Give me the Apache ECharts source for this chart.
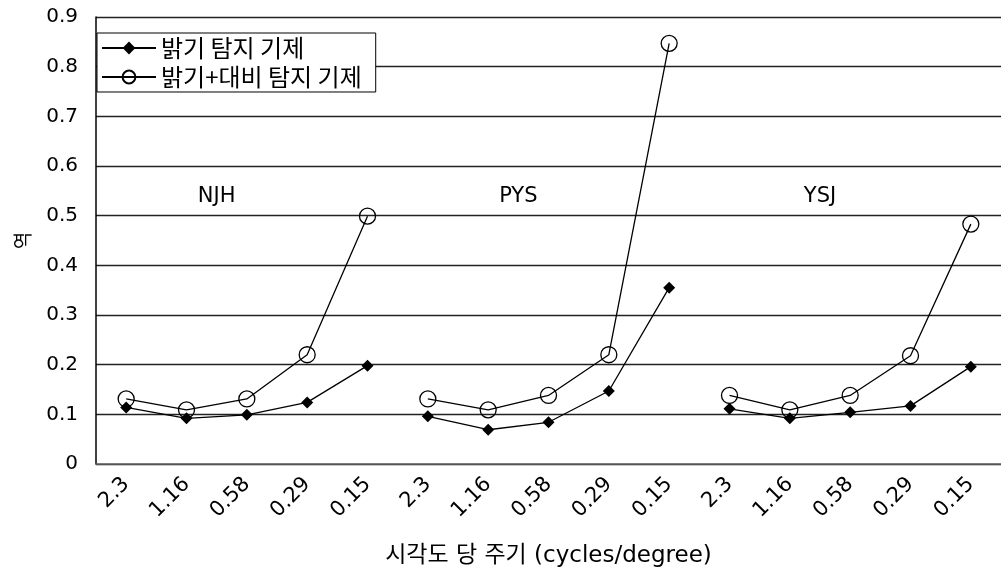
<!DOCTYPE html>
<html>
<head>
<meta charset="utf-8">
<script src="https://cdn.jsdelivr.net/npm/echarts@6/dist/echarts.min.js"></script>
<style>
html,body{margin:0;padding:0;background:#fff;}
#chart{width:1001px;height:573px;}
</style>
</head>
<body>
<div id="chart"></div>
<script>
// Data
const freqLabels = ['2.3', '1.16', '0.58', '0.29', '0.15'];
const groups = ['NJH', 'PYS', 'YSJ'];
const brightness = {
  NJH: [0.114, 0.092, 0.099, 0.124, 0.198],
  PYS: [0.096, 0.069, 0.084, 0.147, 0.355],
  YSJ: [0.111, 0.092, 0.104, 0.117, 0.196]
};
const brightContrast = {
  NJH: [0.131, 0.109, 0.131, 0.220, 0.499],
  PYS: [0.131, 0.109, 0.138, 0.220, 0.847],
  YSJ: [0.138, 0.109, 0.138, 0.218, 0.483]
};
const seriesNames = ['밝기 탐지 기제', '밝기+대비 탐지 기제'];
const yTicks = { min: 0, max: 0.9, interval: 0.1 };

const categories = [];
groups.forEach(() => freqLabels.forEach(f => categories.push(f)));

const latin = 'DejaVu Sans, Noto Sans CJK KR, sans-serif';

function groupData(values, gi) {
  const arr = new Array(categories.length).fill(null);
  values.forEach((v, i) => { arr[gi * freqLabels.length + i] = v; });
  return arr;
}

const series = [];
groups.forEach((g, gi) => {
  series.push({
    name: seriesNames[0], type: 'line', data: groupData(brightness[g], gi),
    symbol: 'diamond', symbolSize: 12, connectNulls: false,
    lineStyle: { color: '#000', width: 1.3 },
    itemStyle: { color: '#000' }, z: 3
  });
  series.push({
    name: seriesNames[1], type: 'line', data: groupData(brightContrast[g], gi),
    symbol: 'circle', symbolSize: 16, connectNulls: false,
    lineStyle: { color: '#000', width: 1.3 },
    itemStyle: { color: 'rgba(255,255,255,0)', borderColor: '#000', borderWidth: 1.3 }, z: 4
  });
});

const chart = echarts.init(document.getElementById('chart'), null, { renderer: 'canvas' });
chart.setOption({
  animation: false,
  backgroundColor: '#fff',
  grid: { left: 96, top: 17, width: 912, height: 449, containLabel: false },
  legend: {
    data: seriesNames,
    orient: 'vertical', left: 97, top: 33,
    backgroundColor: '#fff', borderColor: '#000', borderWidth: 1,
    padding: [3, 14, 3, 4], itemGap: 5, itemWidth: 54, itemHeight: 16,
    textStyle: { fontFamily: 'Noto Sans CJK KR, sans-serif', fontSize: 24, color: '#000' }
  },
  xAxis: {
    type: 'category', data: categories, boundaryGap: true,
    name: '시각도 당 주기 (cycles/degree)', nameLocation: 'middle', nameGap: 81,
    nameTextStyle: { fontFamily: latin, fontSize: 23, color: '#000' },
    axisLine: { lineStyle: { color: '#666', width: 1.5 } },
    axisTick: { inside: true, length: 8, lineStyle: { color: '#888', width: 1.5 } },
    axisLabel: { rotate: 45, interval: 0, fontFamily: latin, fontSize: 21, color: '#000', margin: 17 },
    splitLine: { show: false }
  },
  yAxis: {
    type: 'value', min: yTicks.min, max: yTicks.max, interval: yTicks.interval,
    name: '역', nameLocation: 'middle', nameRotate: 90, nameGap: 64,
    nameTextStyle: { fontFamily: 'Noto Sans CJK KR, sans-serif', fontSize: 19, color: '#000' },
    axisLine: { show: true, lineStyle: { color: '#000', width: 1.5 } },
    axisTick: { show: false },
    axisLabel: { fontFamily: latin, fontSize: 20, color: '#000', margin: 18,
      formatter: v => (Math.round(v * 10) / 10).toString() },
    splitLine: { lineStyle: { color: '#222', width: 1.3 } }
  },
  series: series
});

// group labels centred on the boundary between the 2nd and 3rd category of each group
const labelValue = 0.539;
const graphics = groups.map((g, gi) => {
  const a = chart.convertToPixel({ xAxisIndex: 0, yAxisIndex: 0 }, [gi * freqLabels.length + 1, labelValue]);
  const b = chart.convertToPixel({ xAxisIndex: 0, yAxisIndex: 0 }, [gi * freqLabels.length + 2, labelValue]);
  return {
    type: 'text', x: (a[0] + b[0]) / 2, y: a[1],
    style: { text: g, fontFamily: latin, fontSize: 21, fill: '#000', align: 'center', verticalAlign: 'middle' }
  };
});
chart.setOption({ graphic: graphics });
</script>
</body>
</html>
